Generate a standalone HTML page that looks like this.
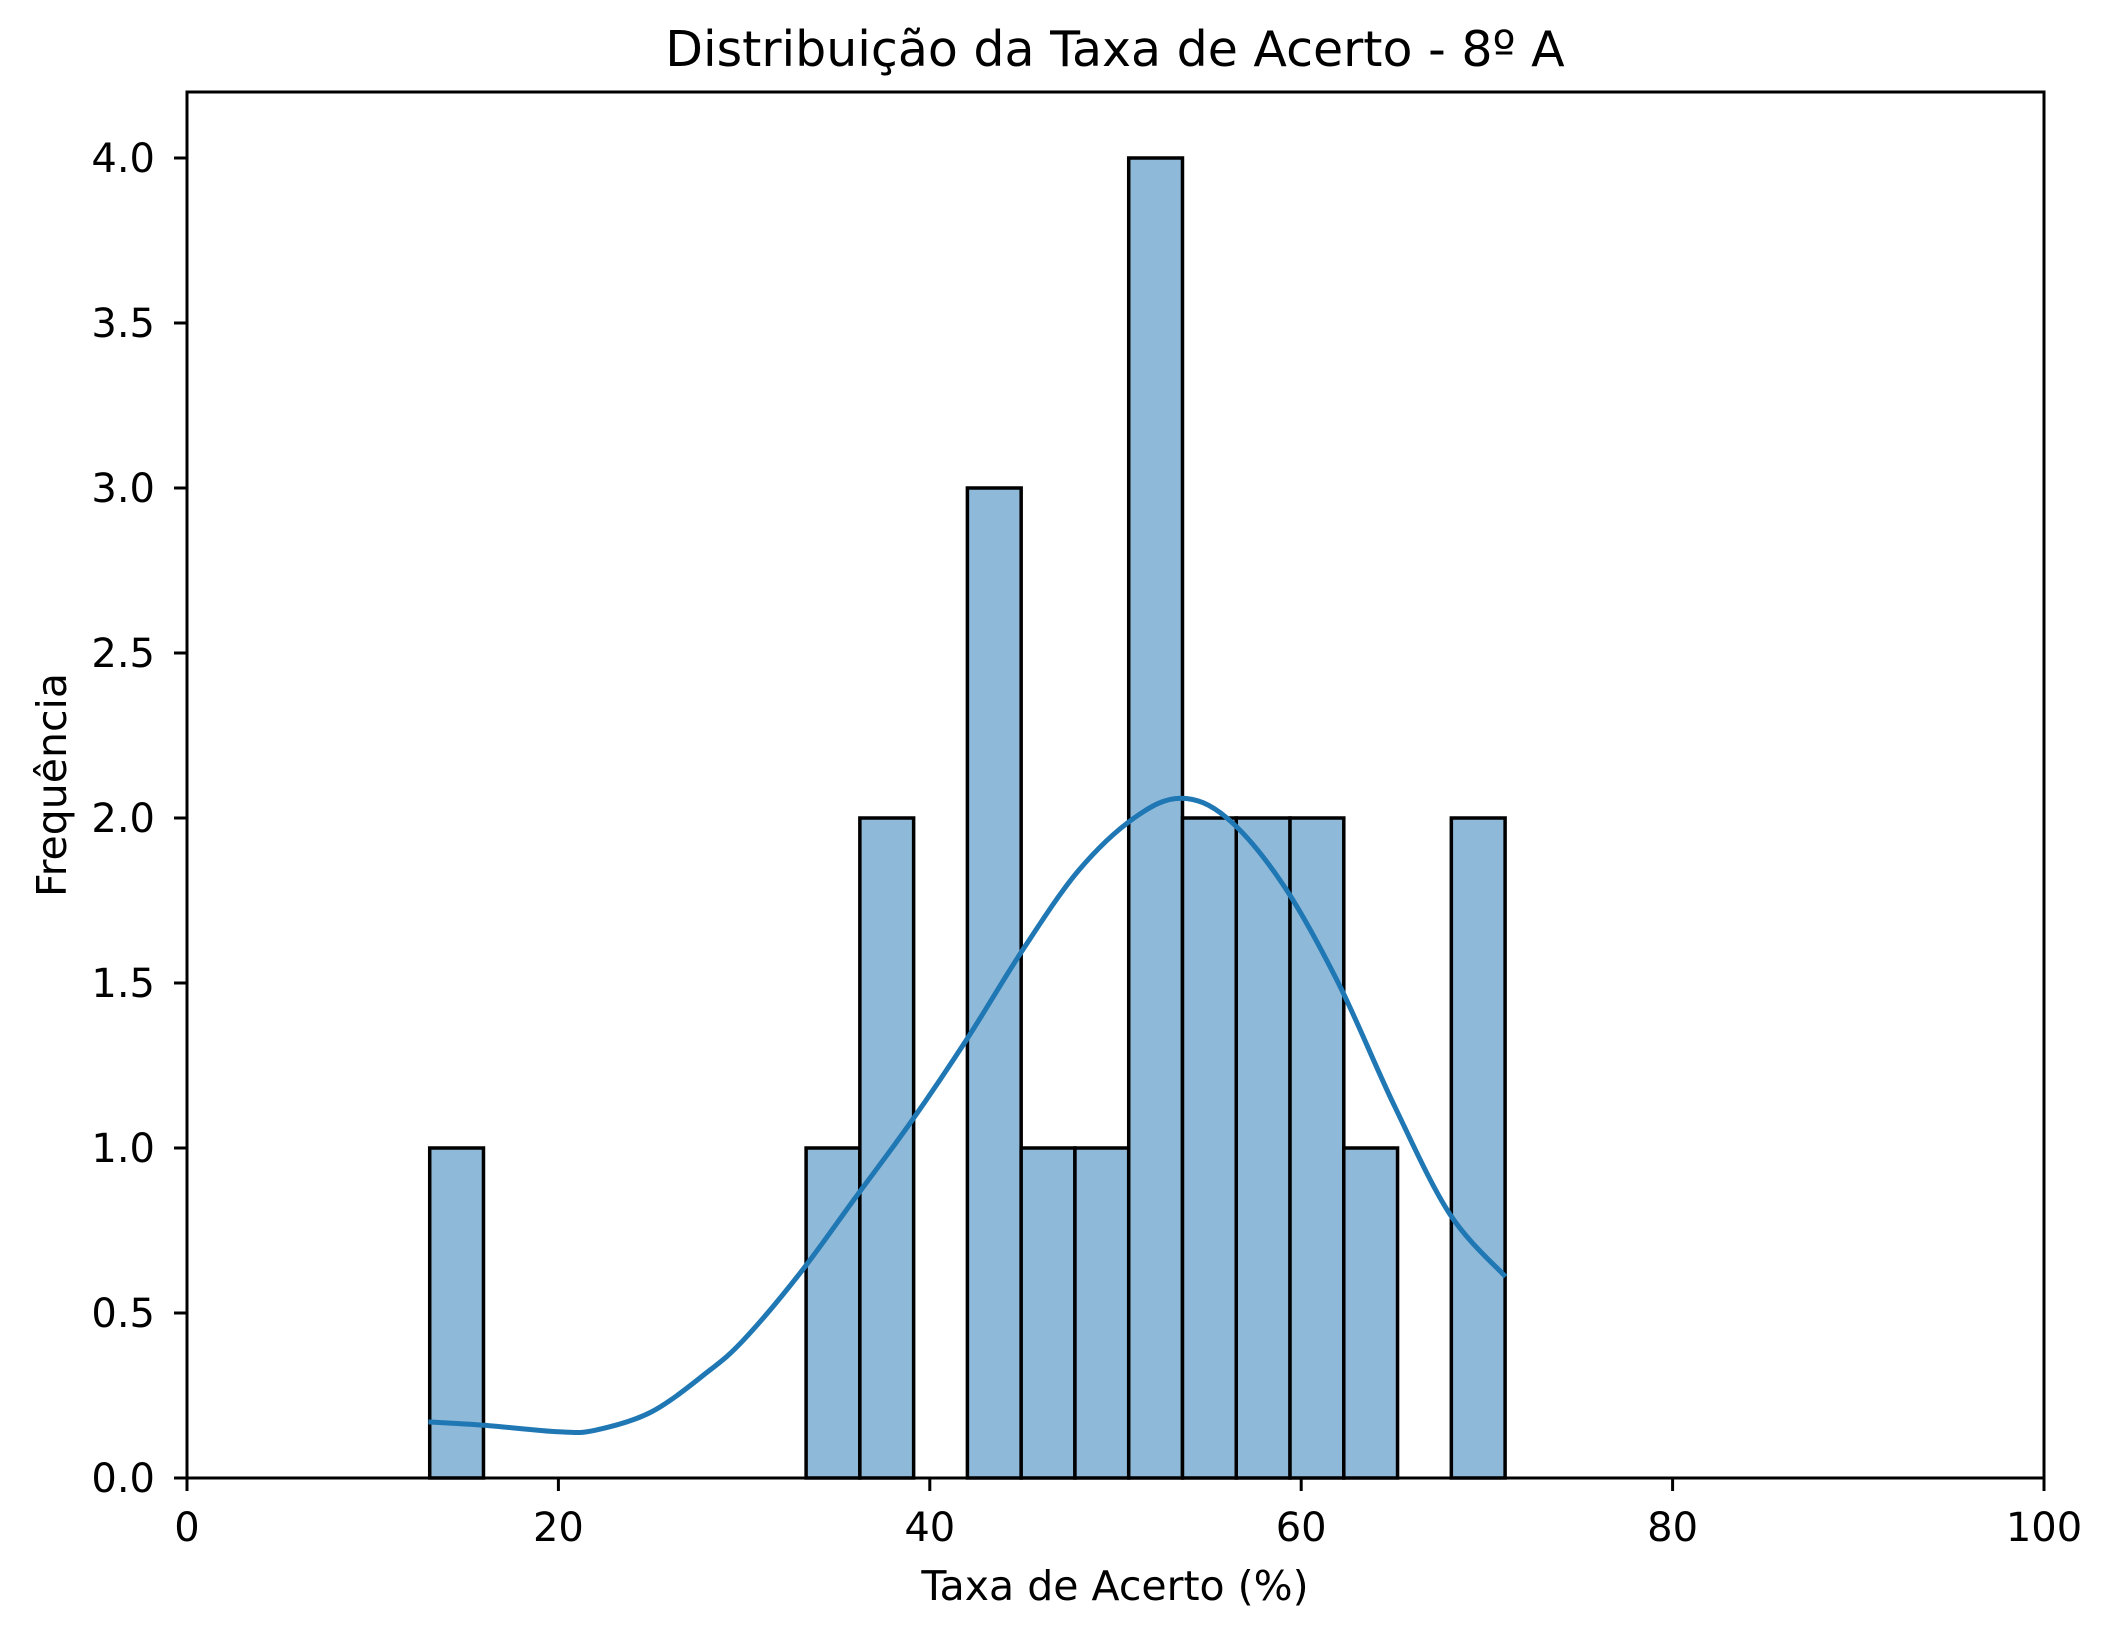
<!DOCTYPE html>
<html><head><meta charset="utf-8"><style>
html,body{margin:0;padding:0;background:#fff;}
svg{display:block;font-family:"DejaVu Sans","Liberation Sans",sans-serif;}
</style></head><body>
<svg id="chart" width="2115" height="1638" viewBox="0 0 2115 1638">
<text x="1115" y="66" font-size="49" text-anchor="middle">Distribuição da Taxa de Acerto - 8º A</text>
<g id="bars"></g><g id="kde"></g><g id="axes"></g>
<text x="1115" y="1600" font-size="41" text-anchor="middle">Taxa de Acerto (%)</text>
<text transform="translate(66,785) rotate(-90)" font-size="41" text-anchor="middle">Frequência</text>
</svg>
<script>
const binStart = 13.07;
const binEnd = 70.98;
const counts = [1,0,0,0,0,0,0,1,2,0,3,1,1,4,2,2,2,1,0,2];
const kdeX = [13,16,20,22,25,28,30,33,36,39,42,45,48,51,53.5,56,59,62,65,68,71];
const kdeY = [0.17,0.16,0.14,0.145,0.2,0.32,0.42,0.62,0.85,1.08,1.33,1.6,1.84,2.0,2.06,2.0,1.8,1.5,1.13,0.8,0.61];
const xTicks = [0,20,40,60,80,100];
const yTicks = [0,0.5,1,1.5,2,2.5,3,3.5,4];
const yTickLabels = ["0.0","0.5","1.0","1.5","2.0","2.5","3.0","3.5","4.0"];
const L=187,R=2044,T=92,B=1478,xmax=100,ymax=4.2;
const sx=v=>L+(v/xmax)*(R-L), sy=v=>B-(v/ymax)*(B-T);
const NS='http://www.w3.org/2000/svg';
function mk(t,a,p){const e=document.createElementNS(NS,t);for(const k in a)e.setAttribute(k,a[k]);p.appendChild(e);return e;}
const bars=document.getElementById('bars'),kde=document.getElementById('kde'),axes=document.getElementById('axes');
const w=(binEnd-binStart)/counts.length;
counts.forEach((c,i)=>{
  const x0=sx(binStart+i*w),x1=sx(binStart+(i+1)*w);
  const r=mk('rect',{x:x0,y:sy(c),width:x1-x0,height:sy(0)-sy(c),fill:'#8fb9d9',stroke:'#000','stroke-width':3.5},bars);
  
  
});
const pts=kdeX.map((x,i)=>[sx(x),sy(kdeY[i])]);
let d='M'+pts[0][0]+','+pts[0][1];
for(let i=0;i<pts.length-1;i++){
  const p0=pts[Math.max(0,i-1)],p1=pts[i],p2=pts[i+1],p3=pts[Math.min(pts.length-1,i+2)];
  const c1=[p1[0]+(p2[0]-p0[0])/6,p1[1]+(p2[1]-p0[1])/6];
  const c2=[p2[0]-(p3[0]-p1[0])/6,p2[1]-(p3[1]-p1[1])/6];
  d+='C'+c1[0]+','+c1[1]+' '+c2[0]+','+c2[1]+' '+p2[0]+','+p2[1];
}
const p=mk('path',{d:d,fill:'none',stroke:'#1f77b4','stroke-width':5,'stroke-linejoin':'round'},kde);


const f=mk('rect',{x:L,y:T,width:R-L,height:B-T,fill:'none',stroke:'#000','stroke-width':3},axes);


xTicks.forEach(v=>{
  const x=sx(v);
  mk('line',{x1:x,x2:x,y1:B,y2:B+13,stroke:'#000','stroke-width':3},axes);
  const t=mk('text',{x:x,y:B+63,'font-size':40,'text-anchor':'middle'},axes);
  t.textContent=v;
  
  
});
yTicks.forEach((v,i)=>{
  const y=sy(v);
  mk('line',{x1:L-13,x2:L,y1:y,y2:y,stroke:'#000','stroke-width':3},axes);
  const t=mk('text',{x:L-32,y:y+14,'font-size':40,'text-anchor':'end'},axes);
  t.textContent=yTickLabels[i];
  
  
});
</script>
</body></html>
